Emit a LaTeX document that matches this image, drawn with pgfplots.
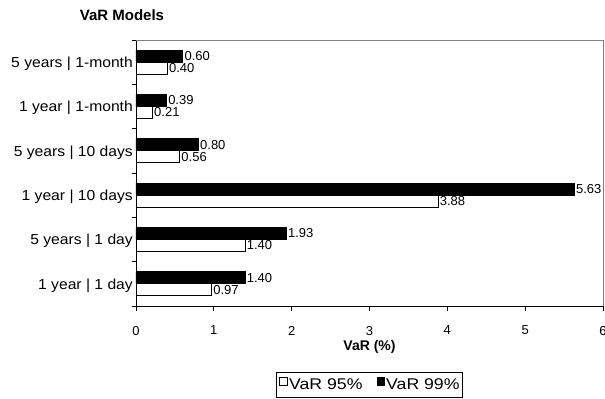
\documentclass[border=0pt]{standalone}
\usepackage{fontspec}
\setmainfont{Liberation Sans}
\newfontfamily\tickfont{Liberation Sans}[FakeStretch=1.08]
\newfontfamily\legfont{Liberation Sans}[FakeStretch=1.14]
\usepackage{pgfplots}
\pgfplotsset{compat=1.18}
\definecolor{framegray}{RGB}{128,128,128}
\begin{document}
\begin{tikzpicture}
\begin{axis}[
  name=ax,
  scale only axis, width=467bp, height=266bp,
  xbar, bar width=12bp,
  xmin=0, xmax=6, ymin=-0.5, ymax=5.5,
  axis x line*=bottom, axis y line*=left,
  axis line style={-, black, line width=0.8bp},
  clip=false,
  xtick={0,...,6},
  ytick={0,...,5},
  yticklabels={1 year | 1 day, 5 years | 1 day, 1 year | 10 days, 5 years | 10 days, 1 year | 1-month, 5 years | 1-month},
  minor ytick={-0.5,0.5,...,5.5},
  tick align=outside,
  major tick length=5bp, minor tick length=4bp,
  every major y tick/.append style={draw=none},
  every tick/.append style={black, line width=0.8bp},
  /pgf/number format/assume math mode=true,
  yticklabel style={font=\tickfont\fontsize{14.5bp}{17bp}\selectfont, inner xsep=0pt, xshift=2bp, yshift=-1.5bp},
  xticklabel style={font=\fontsize{13bp}{15bp}\selectfont, anchor=north, yshift=-11.5bp},
  xlabel={VaR (\%)},
  xlabel style={font=\bfseries\fontsize{14bp}{16bp}\selectfont, at={(0.5,0)}, anchor=base, yshift=-44bp},
  title={VaR Models},
  title style={font=\bfseries\fontsize{15bp}{18bp}\selectfont, at={(0,1)}, anchor=base, xshift=-14bp, yshift=14bp},
  point meta=x,
  nodes near coords={\pgfmathprintnumber[fixed,fixed zerofill,precision=2,assume math mode=true]{\pgfplotspointmeta}},
  nodes near coords style={font=\fontsize{13bp}{15bp}\selectfont, anchor=west, inner xsep=1.5bp},
  legend columns=2,
  legend style={at={(0.5,0)}, anchor=north, yshift=-66bp, draw=black, line width=0.8bp,
    font=\legfont\fontsize{15.5bp}{18bp}\selectfont, inner xsep=3bp, inner ysep=4.5bp,
    nodes={inner xsep=0pt},
    /tikz/every even column/.append style={column sep=14bp}},
]
\addplot[fill=white, draw=black, line width=0.8bp, bar shift=-6bp,
  legend image code/.code={\draw[fill=white,draw=black,line width=0.6bp] (0bp,0bp) rectangle (7.5bp,7.5bp); \path (9bp,0bp);}]
  coordinates {(0.97,0) (1.40,1) (3.88,2) (0.56,3) (0.21,4) (0.40,5)};
\addlegendentry{VaR 95\%}
\addplot[fill=black, draw=black, line width=0.8bp, bar shift=6bp,
  legend image code/.code={\draw[fill=black,draw=black,line width=0.6bp] (0bp,0bp) rectangle (7.5bp,7.5bp); \path (9bp,0bp);}]
  coordinates {(1.40,0) (1.93,1) (5.63,2) (0.80,3) (0.39,4) (0.60,5)};
\addlegendentry{VaR 99\%}
\draw[framegray, line width=0.8bp] (rel axis cs:0,1) -- (rel axis cs:1,1) -- (rel axis cs:1,0);
\coordinate (SW) at (rel axis cs:0,0);
\coordinate (NE) at (rel axis cs:1,1);
\end{axis}
\pgfresetboundingbox
\path[use as bounding box] ([shift={(-136bp,-93bp)}]SW) rectangle ([shift={(2bp,40bp)}]NE);
\end{tikzpicture}
\end{document}
